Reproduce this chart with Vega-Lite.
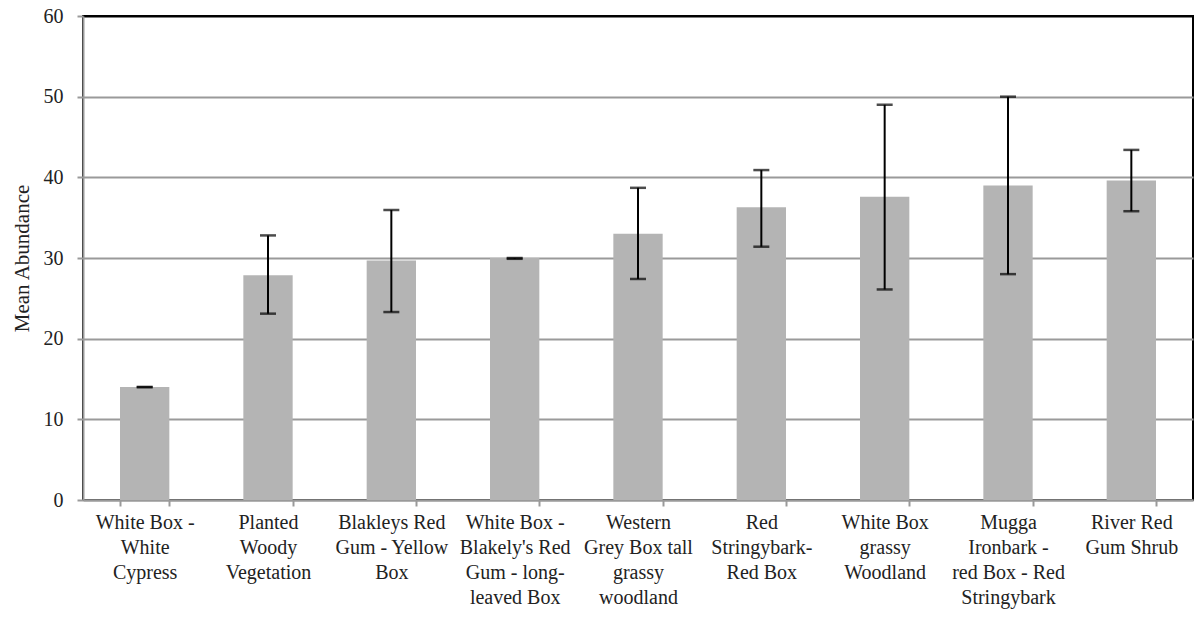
{
  "$schema": "https://vega.github.io/schema/vega-lite/v6.json",
  "width": 1110,
  "height": 484,
  "autosize": "none",
  "padding": {"left": 83, "top": 16, "right": 3, "bottom": 117},
  "background": "white",
  "config": {
    "view": {"stroke": "black", "strokeWidth": 2},
    "font": "Liberation Serif"
  },
  "data": {
    "values": [
      {"habitat": "White Box -\nWhite\nCypress", "mean": 14.0, "lo": 14.0, "hi": 14.0},
      {"habitat": "Planted\nWoody\nVegetation", "mean": 27.85, "lo": 23.1, "hi": 32.8},
      {"habitat": "Blakleys Red\nGum - Yellow\nBox", "mean": 29.7, "lo": 23.3, "hi": 35.95},
      {"habitat": "White Box -\nBlakely's Red\nGum - long-\nleaved Box", "mean": 30.0, "lo": 29.9, "hi": 30.0},
      {"habitat": "Western\nGrey Box tall\ngrassy\nwoodland", "mean": 33.0, "lo": 27.4, "hi": 38.7},
      {"habitat": "Red\nStringybark-\nRed Box", "mean": 36.3, "lo": 31.4, "hi": 40.9},
      {"habitat": "White Box\ngrassy\nWoodland", "mean": 37.6, "lo": 26.1, "hi": 49.0},
      {"habitat": "Mugga\nIronbark -\nred Box - Red\nStringybark", "mean": 39.0, "lo": 28.0, "hi": 50.0},
      {"habitat": "River Red\nGum Shrub", "mean": 39.6, "lo": 35.8, "hi": 43.4}
    ]
  },
  "encoding": {
    "x": {
      "field": "habitat",
      "type": "nominal",
      "sort": null,
      "scale": {"paddingInner": 0.6, "paddingOuter": 0.3},
      "axis": {
        "title": null,
        "labelAngle": 0,
        "labelExpr": "datum.value ? split(datum.value, '\\n') : ''",
        "labelFont": "Liberation Serif",
        "labelFontSize": 20,
        "labelLineHeight": 25,
        "labelColor": "#222222",
        "labelPadding": 6,
        "labelBaseline": "top",
        "tickBand": "extent",
        "tickColor": "#9a9a9a",
        "tickWidth": 2,
        "tickSize": 6,
        "domainColor": "#9a9a9a",
        "domainWidth": 2,
        "grid": false
      }
    }
  },
  "layer": [
    {
      "mark": {"type": "bar", "color": "#b4b4b4"},
      "encoding": {
        "y": {
          "field": "mean",
          "type": "quantitative",
          "scale": {"domain": [0, 60], "nice": false},
          "axis": {
            "title": "Mean Abundance",
            "titleFont": "Liberation Serif",
            "titleFontSize": 21,
            "titleFontWeight": "normal",
            "titleColor": "#222222",
            "titlePadding": 11,
            "values": [0, 10, 20, 30, 40, 50, 60],
            "labelFont": "Liberation Serif",
            "labelFontSize": 20,
            "labelColor": "#222222",
            "labelPadding": 14,
            "tickColor": "#9a9a9a",
            "tickWidth": 2,
            "tickSize": 6,
            "domainColor": "#9a9a9a",
            "domainWidth": 2,
            "grid": true,
            "gridColor": {"condition": {"test": "datum.value === 60", "value": "black"}, "value": "#9a9a9a"},
            "gridWidth": 2
          }
        }
      }
    },
    {
      "mark": {"type": "rule", "color": "black", "strokeWidth": 2},
      "encoding": {
        "y": {"field": "lo", "type": "quantitative"},
        "y2": {"field": "hi"}
      }
    },
    {
      "mark": {"type": "tick", "color": "black", "size": 16, "thickness": 2.5, "orient": "horizontal"},
      "encoding": {"y": {"field": "hi", "type": "quantitative"}}
    },
    {
      "mark": {"type": "tick", "color": "black", "size": 16, "thickness": 2.5, "orient": "horizontal"},
      "encoding": {"y": {"field": "lo", "type": "quantitative"}}
    }
  ]
}
